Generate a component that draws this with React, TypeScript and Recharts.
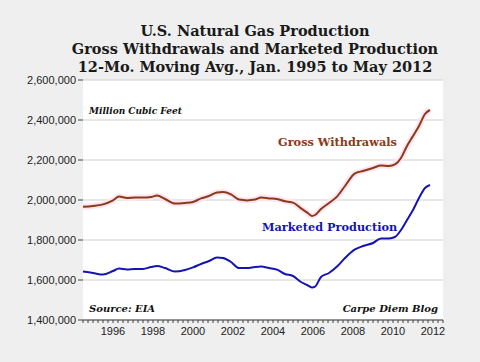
import { CartesianGrid, Line, LineChart, XAxis, YAxis } from 'recharts'

// decimal years, 12-mo moving avg (million cubic feet)
const years = [
  1995.0, 1995.5, 1996.0, 1996.5, 1996.8, 1997.2, 1997.6, 1998.0, 1998.4, 1998.7, 1999.1, 1999.6,
  2000.1, 2000.5, 2000.9, 2001.3, 2001.7, 2002.0, 2002.4, 2002.8, 2003.2, 2003.6, 2003.9, 2004.3,
  2004.7, 2005.1, 2005.5, 2005.9, 2006.2, 2006.45, 2006.6, 2006.9, 2007.3, 2007.7, 2008.1, 2008.6,
  2009.0, 2009.5, 2009.9, 2010.3, 2010.6, 2010.9, 2011.2, 2011.5, 2011.8, 2012.1, 2012.35,
]
const grossWithdrawals = [
  1966, 1970, 1978, 1998, 2017, 2010, 2012, 2012, 2015, 2022, 2005, 1982,
  1985, 1990, 2008, 2020, 2038, 2040, 2028, 2002, 1998, 2002, 2012, 2008,
  2005, 1994, 1987, 1958, 1938, 1920, 1925, 1955, 1985, 2017, 2070, 2133,
  2145, 2160, 2172, 2170, 2178, 2210, 2270, 2320, 2370, 2430, 2450,
]
const marketedProduction = [
  1642, 1635, 1627, 1645, 1657, 1653, 1655, 1655, 1665, 1670, 1660, 1642,
  1650, 1663, 1680, 1695, 1712, 1710, 1690, 1660, 1660, 1665, 1667, 1660,
  1652, 1630, 1620, 1590, 1575, 1563, 1567, 1615, 1635, 1667, 1710, 1753,
  1770, 1785, 1808, 1808, 1815, 1850, 1900, 1950, 2010, 2060, 2075,
]
const yTicks = [1400000, 1600000, 1800000, 2000000, 2200000, 2400000, 2600000]
const labelYears = [1996, 1998, 2000, 2002, 2004, 2006, 2008, 2010, 2012]

const data = years.map((t, i) => ({
  t,
  gross: grossWithdrawals[i] * 1000,
  marketed: marketedProduction[i] * 1000,
}))

const quarterTicks: number[] = []
for (let q = 0; q <= 72; q++) quarterTicks.push(1995 + q / 4)

const serif = '"DejaVu Serif", Georgia, serif'
const axisStyle = { fontSize: 11, fill: '#222', fontFamily: '"Liberation Sans", Arial, sans-serif' }

export default function App() {
  return (
    <div style={{ position: 'absolute', left: 0, top: 0, width: 480, height: 362, background: '#efefef', overflow: 'hidden' }}>
      <div style={{ position: 'absolute', left: 0, top: 22, width: 510, textAlign: 'center', fontFamily: serif, fontWeight: 700, fontSize: 14.5, lineHeight: '18px', color: '#1a1a1a' }}>
        U.S. Natural Gas Production<br />
        Gross Withdrawals and Marketed Production<br />
        12-Mo. Moving Avg., Jan. 1995 to May 2012
      </div>
      <LineChart width={480} height={362} data={data} margin={{ top: 80, right: 37, bottom: 20, left: 0 }}>
        <CartesianGrid vertical={false} fill="#fff" stroke="#cfcfcf" />
        <XAxis
          dataKey="t"
          type="number"
          domain={[1995, 2013]}
          ticks={quarterTicks}
          interval={0}
          tickFormatter={(v: number) => (labelYears.includes(v - 0.5) ? String(v - 0.5) : '')}
          tick={axisStyle}
          tickSize={3}
          tickMargin={4}
          stroke="#444"
          height={22}
        />
        <YAxis
          type="number"
          domain={[1400000, 2600000]}
          ticks={yTicks}
          interval={0}
          tickFormatter={(v: number) => v.toLocaleString('en-US')}
          tick={axisStyle}
          axisLine={false}
          tickSize={5}
          tickMargin={2}
          stroke="#444"
          width={83}
        />
        <Line dataKey="gross" type="monotone" stroke="#ffe4f2" strokeWidth={6} dot={false} isAnimationActive={false} />
        <Line dataKey="gross" type="monotone" stroke="#8a3a16" strokeWidth={2} dot={false} isAnimationActive={false} />
        <Line dataKey="marketed" type="monotone" stroke="#1414b4" strokeWidth={2} dot={false} isAnimationActive={false} />
      </LineChart>
      <div style={{ position: 'absolute', left: 89, top: 106, fontFamily: serif, fontStyle: 'italic', fontWeight: 700, fontSize: 9, color: '#111' }}>
        Million Cubic Feet
      </div>
      <div style={{ position: 'absolute', left: 278, top: 135, fontFamily: serif, fontWeight: 700, fontSize: 11.3, color: '#8a3a16' }}>
        Gross Withdrawals
      </div>
      <div style={{ position: 'absolute', left: 262, top: 220, fontFamily: serif, fontWeight: 700, fontSize: 11.3, color: '#1414b4' }}>
        Marketed Production
      </div>
      <div style={{ position: 'absolute', left: 89, top: 303, fontFamily: serif, fontStyle: 'italic', fontWeight: 700, fontSize: 10, color: '#111' }}>
        Source: EIA
      </div>
      <div style={{ position: 'absolute', right: 42, top: 303, fontFamily: serif, fontStyle: 'italic', fontWeight: 700, fontSize: 10, color: '#111' }}>
        Carpe Diem Blog
      </div>
    </div>
  )
}
